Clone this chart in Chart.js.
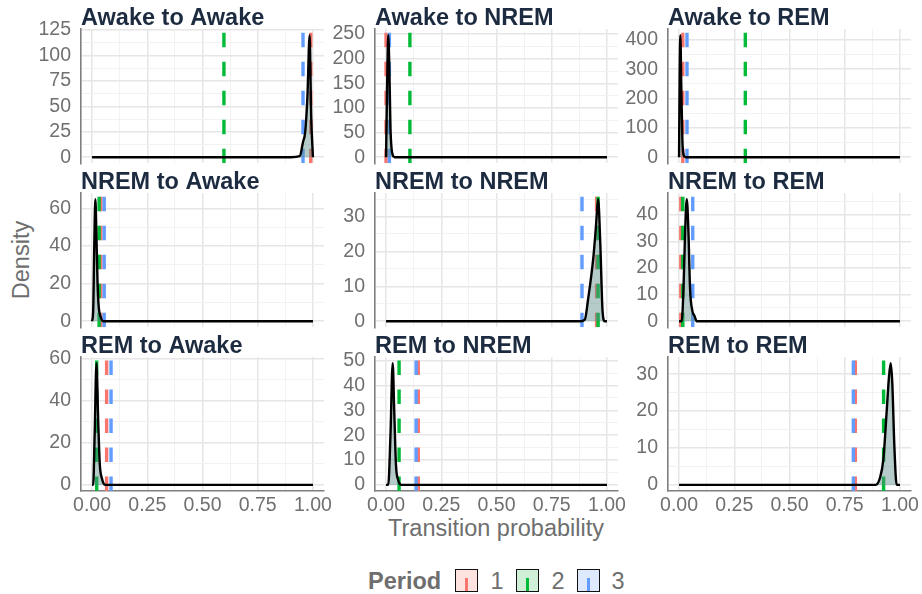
<!DOCTYPE html>
<html>
<head>
<meta charset="utf-8">
<script src="https://cdn.jsdelivr.net/npm/chart.js@4.4.1/dist/chart.umd.min.js"></script>
<style>
  html, body { margin: 0; padding: 0; background: #fff; }
  body { width: 922px; height: 594px; position: relative; overflow: hidden; font-family: "Liberation Sans", Arial, sans-serif; }
  canvas.panel { position: absolute; }
  .lab { position: absolute; color: #6e6e6e; font-size: 23.5px; white-space: nowrap; line-height: 26px; }
  .key { position: absolute; width: 23px; height: 23px; box-sizing: border-box; border: 1.5px solid #111; }
  .key span { position: absolute; left: 8.5px; width: 3px; top: 8px; bottom: 0; }
</style>
</head>
<body>
<div class="lab" style="left:21px;top:260px;transform:translate(-50%,-50%) rotate(-90deg);">Density</div>
<div class="lab" style="left:496px;top:528px;transform:translate(-50%,-50%);">Transition probability</div>
<div id="legend"></div>
<script>
const titles = ['Awake to Awake', 'Awake to NREM', 'Awake to REM',
                'NREM to Awake', 'NREM to NREM', 'NREM to REM',
                'REM to Awake', 'REM to NREM', 'REM to REM'];
const periods = ['1', '2', '3'];

// dashed line per period, one value per panel
const period1 = [0.99, 0.0, 0.017, 0.04, 0.953, 0.008, 0.066, 0.146, 0.798];
const period2 = [0.597, 0.108, 0.30, 0.032, 0.96, 0.017, 0.021, 0.059, 0.926];
const period3 = [0.955, 0.015, 0.036, 0.055, 0.887, 0.062, 0.086, 0.136, 0.789];

// density curves
const densX = [
  [0, 0.90, 0.94, 0.955, 0.965, 0.975, 0.985, 0.992, 1.0],
  [0, 0.005, 0.01, 0.015, 0.02, 0.03, 0.04, 1.0],
  [0, 0.003, 0.006, 0.01, 0.015, 0.02, 0.03, 1.0],
  [0, 0.005, 0.01, 0.015, 0.02, 0.025, 0.03, 0.04, 0.05, 1.0],
  [0, 0.88, 0.9, 0.914, 0.938, 0.95, 0.96, 0.97, 0.98, 0.99, 1.0],
  [0, 0.012, 0.02, 0.028, 0.035, 0.042, 0.05, 0.06, 0.07, 0.08, 1.0],
  [0, 0.005, 0.012, 0.02, 0.028, 0.035, 0.045, 0.06, 1.0],
  [0, 0.01, 0.02, 0.03, 0.037, 0.045, 0.055, 0.07, 1.0],
  [0, 0.89, 0.91, 0.925, 0.94, 0.95, 0.958, 0.965, 0.975, 0.985, 1.0]
];
const densY = [
  [0, 0, 1, 15, 25, 60, 120, 40, 0],
  [0, 150, 248, 180, 60, 5, 0, 0],
  [0, 300, 416, 250, 60, 10, 0, 0],
  [0, 5, 40, 65, 45, 20, 8, 2, 0, 0],
  [0, 0, 0.5, 6, 18, 27, 35, 22, 3, 0, 0],
  [0, 0, 12, 35, 46, 35, 12, 4, 2, 0, 0],
  [0, 0, 25, 58, 30, 10, 3, 0, 0],
  [0, 0, 20, 49, 30, 8, 2, 0, 0],
  [0, 0, 2, 7, 20, 29, 33, 28, 10, 0, 0]
];

const yTicks = [
  [0, 25, 50, 75, 100, 125], [0, 50, 100, 150, 200, 250], [0, 100, 200, 300, 400],
  [0, 20, 40, 60], [0, 10, 20, 30], [0, 10, 20, 30, 40],
  [0, 20, 40, 60], [0, 10, 20, 30, 40, 50], [0, 10, 20, 30]
];
const xTicks = [0, 0.25, 0.5, 0.75, 1];
const xTickLabels = ['0.00', '0.25', '0.50', '0.75', '1.00'];

const colors = ['#F8766D', '#00BA38', '#619CFF'];
const keyFills = ['#fde2e0', '#cff0d7', '#dfe9fd'];
const colLeft = [81, 375, 668];
const rowTop = [29, 193, 357];
const plotW = 243, plotH = 134, axisW = 70, padTop = 30, padRight = 25, xAxisH = 32;
const tickFont = { family: '"Liberation Sans", Arial, sans-serif', size: 19.5 };
const tickColor = '#707070';

const panelTitle = {
  id: 'panelTitle',
  afterDraw(chart, args, opts) {
    const c = chart.ctx, a = chart.chartArea;
    c.save();
    c.font = 'bold 23.5px "Liberation Sans", Arial, sans-serif';
    c.fillStyle = '#1c2b40';
    c.textBaseline = 'alphabetic';
    c.fillText(opts.text, a.left, a.top - 4);
    c.restore();
  }
};

// midpoints between breaks, like ggplot minor breaks
function withMinor(major, lo, hi) {
  const step = major[1] - major[0];
  const all = major.slice();
  for (let i = -1; i < major.length; i++) {
    const m = major[0] + (i + 0.5) * step;
    if (m > lo && m < hi) all.push(m);
  }
  return all.sort((a, b) => a - b);
}

for (let i = 0; i < 9; i++) {
  const row = Math.floor(i / 3), col = i % 3;
  const bottom = row === 2;
  const peak = Math.max(...densY[i]);
  const yMin = -0.05 * peak, yMax = 1.05 * peak;
  const yAll = withMinor(yTicks[i], yMin, yMax);
  const xAll = withMinor(xTicks, -0.05, 1.05);

  const cv = document.createElement('canvas');
  cv.className = 'panel';
  cv.width = axisW + plotW + padRight;
  cv.height = padTop + plotH + (bottom ? xAxisH : 0);
  document.body.appendChild(cv);

  const vals = [period1[i], period2[i], period3[i]];
  const vlines = vals.map((v, k) => ({
    label: periods[k],
    data: [{ x: v, y: yMin }, { x: v, y: yMax }],
    borderColor: colors[k],
    borderWidth: 3.4,
    borderDash: [14.5, 14.5],
    pointRadius: 0,
    fill: false,
    order: 3 - k
  }));

  const chart = new Chart(cv.getContext('2d'), {
    type: 'line',
    data: {
      datasets: [{
        label: 'density',
        data: densX[i].map((x, j) => ({ x: x, y: densY[i][j] })),
        borderColor: '#000',
        borderWidth: 2.4,
        backgroundColor: 'rgba(90,140,135,0.45)',
        fill: 'origin',
        pointRadius: 0,
        cubicInterpolationMode: 'monotone',
        order: 0
      }].concat(vlines)
    },
    options: {
      animation: false,
      responsive: false,
      maintainAspectRatio: false,
      layout: { padding: { top: padTop, right: padRight, left: 0, bottom: 0 } },
      plugins: { legend: { display: false }, tooltip: { enabled: false }, panelTitle: { text: titles[i] } },
      scales: {
        x: {
          type: 'linear', min: -0.05, max: 1.05,
          afterBuildTicks: s => { s.ticks = xAll.map(v => ({ value: v })); },
          afterFit: s => { s.height = bottom ? xAxisH : 0; },
          ticks: {
            display: bottom, autoSkip: false, maxRotation: 0, padding: 3,
            color: tickColor, font: tickFont,
            callback: v => { const k = xTicks.indexOf(v); return k >= 0 ? xTickLabels[k] : ''; }
          },
          grid: {
            drawTicks: false,
            color: c => xTicks.includes(c.tick.value) ? '#e6e6e6' : '#f0f0f0',
            lineWidth: c => xTicks.includes(c.tick.value) ? 1.5 : 0.9
          },
          border: { display: bottom, color: '#7f7f7f', width: 1.6 }
        },
        y: {
          min: yMin, max: yMax,
          afterBuildTicks: s => { s.ticks = yAll.map(v => ({ value: v })); },
          afterFit: s => { s.width = axisW; },
          ticks: {
            autoSkip: false, padding: 10, color: tickColor, font: tickFont,
            callback: v => yTicks[i].includes(v) ? String(v) : ''
          },
          grid: {
            drawTicks: false,
            color: c => yTicks[i].includes(c.tick.value) ? '#e6e6e6' : '#f0f0f0',
            lineWidth: c => yTicks[i].includes(c.tick.value) ? 1.5 : 0.9
          },
          border: { display: true, color: '#7f7f7f', width: 1.6 }
        }
      }
    },
    plugins: [panelTitle]
  });

  // make the plot area exactly plotH tall, then line it up with the grid
  const a = chart.chartArea;
  const extra = Math.round(plotH - (a.bottom - a.top));
  if (extra !== 0) chart.resize(cv.width, cv.height + extra);
  const b = chart.chartArea;
  cv.style.left = (colLeft[col] - b.left) + 'px';
  cv.style.top = (rowTop[row] - b.top) + 'px';
}

// legend
const lg = document.getElementById('legend');
let html = '<div class="lab" style="left:368px;top:568px;font-weight:bold;">Period</div>';
const keyLeft = [455, 516, 577];
const numCenter = [497, 558, 618];
periods.forEach((p, k) => {
  html += '<div class="key" style="left:' + keyLeft[k] + 'px;top:569px;background:' + keyFills[k] + ';">' +
          '<span style="background:' + colors[k] + ';"></span></div>';
  html += '<div class="lab" style="left:' + numCenter[k] + 'px;top:568px;transform:translateX(-50%);">' + p + '</div>';
});
lg.innerHTML = html;
</script>
</body>
</html>
